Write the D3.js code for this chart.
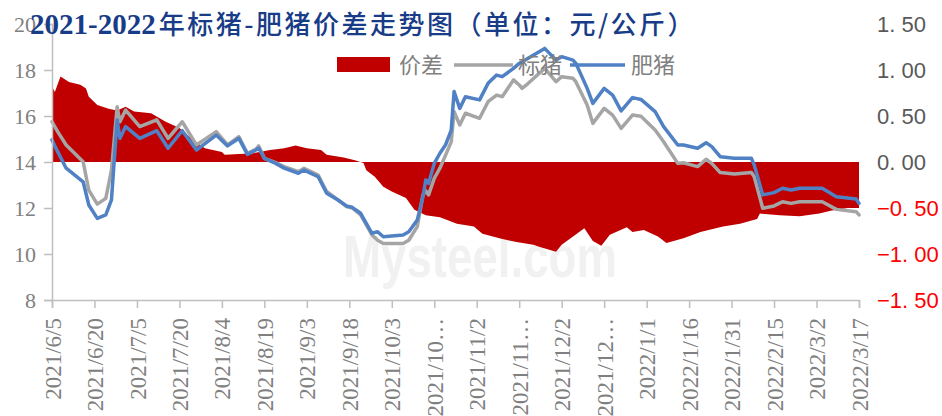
<!DOCTYPE html>
<html>
<head>
<meta charset="utf-8">
<script src="https://cdn.jsdelivr.net/npm/d3@7/dist/d3.min.js"></script>
<style>
  html, body { margin: 0; padding: 0; background: #ffffff; }
  svg { display: block; }
</style>
</head>
<body>
<svg id="chart" width="942" height="416"></svg>
<script>
// Standard pig (标猪) and fat pig (肥猪) prices, 元/公斤
const lineDates = [
  "2021-06-05","2021-06-07","2021-06-10","2021-06-16","2021-06-18","2021-06-21","2021-06-24","2021-06-26",
  "2021-06-28","2021-06-29","2021-07-01","2021-07-06","2021-07-12","2021-07-16","2021-07-21","2021-07-26",
  "2021-08-02","2021-08-06","2021-08-10","2021-08-13","2021-08-16","2021-08-17","2021-08-19","2021-08-23",
  "2021-08-26","2021-08-31","2021-09-02","2021-09-07","2021-09-10","2021-09-14","2021-09-17","2021-09-19",
  "2021-09-22","2021-09-26","2021-09-28","2021-09-30","2021-10-07","2021-10-09","2021-10-12","2021-10-14",
  "2021-10-15","2021-10-16","2021-10-18","2021-10-20","2021-10-22","2021-10-24","2021-10-25","2021-10-27",
  "2021-10-29","2021-11-03","2021-11-06","2021-11-09","2021-11-11","2021-11-15","2021-11-17","2021-11-18",
  "2021-11-20","2021-11-26","2021-11-30","2021-12-02","2021-12-06","2021-12-07","2021-12-11","2021-12-13",
  "2021-12-17","2021-12-20","2021-12-23","2021-12-27","2021-12-30","2022-01-04","2022-01-07","2022-01-12",
  "2022-01-14","2022-01-19","2022-01-22","2022-01-24","2022-01-27","2022-02-01","2022-02-07","2022-02-08",
  "2022-02-11","2022-02-15","2022-02-18","2022-02-21","2022-02-24","2022-03-04","2022-03-09","2022-03-16",
  "2022-03-17"
];
const standardPig = [
  15.75,15.32,14.74,14.01,12.78,12.17,12.42,13.65,
  16.40,15.75,16.26,15.54,15.83,15.03,15.75,14.74,
  15.32,14.74,15.10,14.38,14.55,14.70,14.16,13.97,
  13.80,13.58,13.73,13.43,12.72,12.35,12.06,12.00,
  11.70,10.83,10.60,10.46,10.46,10.60,11.19,12.57,
  12.75,12.57,13.29,13.73,14.30,14.88,16.19,15.61,
  16.12,15.90,16.62,16.91,16.84,17.57,17.35,17.20,
  17.40,18.07,17.49,17.71,17.64,17.49,16.48,15.68,
  16.33,16.04,15.46,16.04,15.99,15.39,14.88,13.94,
  13.97,13.80,14.12,13.94,13.54,13.48,13.54,13.36,
  11.99,12.09,12.27,12.20,12.27,12.27,11.94,11.84,
  11.70
];
const fatPig = [
  14.96,14.45,13.73,13.14,12.13,11.55,11.70,12.35,
  15.83,15.03,15.54,15.03,15.36,14.60,15.36,14.52,
  15.17,14.70,15.03,14.33,14.52,14.60,14.16,13.94,
  13.73,13.51,13.65,13.36,12.64,12.35,12.09,12.03,
  11.77,10.90,10.97,10.75,10.83,10.97,11.48,12.49,
  13.22,13.07,13.94,14.38,14.75,15.39,17.06,16.33,
  16.84,16.70,17.42,17.78,17.71,18.07,18.29,18.35,
  18.50,18.94,18.43,18.58,18.43,18.29,17.20,16.55,
  17.20,16.91,16.22,16.80,16.72,16.19,15.54,14.74,
  14.74,14.60,14.84,14.67,14.23,14.16,14.16,13.87,
  12.57,12.67,12.86,12.78,12.86,12.86,12.49,12.39,
  12.20
];

// Price spread (价差), right axis
const spreadDates = [
  "2021-06-05","2021-06-06","2021-06-08","2021-06-11","2021-06-15","2021-06-17","2021-06-18","2021-06-21",
  "2021-06-25","2021-06-28","2021-07-01","2021-07-04","2021-07-10","2021-07-15","2021-07-20","2021-07-24",
  "2021-07-29","2021-08-04","2021-08-05","2021-08-12","2021-08-14","2021-08-21","2021-08-26","2021-08-30",
  "2021-09-03","2021-09-08","2021-09-10","2021-09-16","2021-09-20","2021-09-23","2021-09-24","2021-09-27",
  "2021-09-30","2021-10-03","2021-10-08","2021-10-11","2021-10-15","2021-10-20","2021-10-26","2021-11-01",
  "2021-11-04","2021-11-10","2021-11-16","2021-11-22","2021-11-24","2021-11-30","2021-12-02","2021-12-10",
  "2021-12-13","2021-12-16","2021-12-19","2021-12-25","2021-12-27","2021-12-31","2022-01-05","2022-01-08",
  "2022-01-14","2022-01-20","2022-01-28","2022-02-03","2022-02-09","2022-02-10","2022-02-17","2022-02-24",
  "2022-03-03","2022-03-07","2022-03-13","2022-03-17"
];
const spreadValues = [
  0.82,0.76,0.93,0.87,0.84,0.80,0.71,0.62,
  0.58,0.56,0.60,0.55,0.53,0.44,0.37,0.26,
  0.15,0.11,0.08,0.09,0.09,0.13,0.15,0.18,
  0.15,0.13,0.08,0.05,0.02,-0.01,-0.09,-0.16,
  -0.27,-0.32,-0.39,-0.52,-0.58,-0.60,-0.67,-0.70,
  -0.78,-0.83,-0.87,-0.90,-0.92,-0.975,-0.90,-0.72,
  -0.86,-0.91,-0.79,-0.71,-0.76,-0.74,-0.81,-0.88,
  -0.83,-0.76,-0.70,-0.67,-0.62,-0.56,-0.58,-0.59,
  -0.56,-0.53,-0.50,-0.50
];

// Axis ticks
const xTickDates = [
  "2021-06-05","2021-06-20","2021-07-05","2021-07-20","2021-08-04","2021-08-19","2021-09-03","2021-09-18",
  "2021-10-03","2021-10-18","2021-11-02","2021-11-17","2021-12-02","2021-12-17","2022-01-01","2022-01-16",
  "2022-01-31","2022-02-15","2022-03-02","2022-03-17"
];
const xTickLabels = [
  "2021/6/5","2021/6/20","2021/7/5","2021/7/20","2021/8/4","2021/8/19","2021/9/3","2021/9/18",
  "2021/10/3","2021/10…","2021/11/2","2021/11…","2021/12/2","2021/12…","2022/1/1","2022/1/16",
  "2022/1/31","2022/2/15","2022/3/2","2022/3/17"
];
const leftTicks = [8, 10, 12, 14, 16, 18, 20];
const rightTicks = [-1.5, -1.0, -0.5, 0, 0.5, 1.0, 1.5];

const titleNumber = "2021-2022";
const titleText = "年标猪-肥猪价差走势图（单位：元/公斤）";
const legendNames = ["价差", "标猪", "肥猪"];

const parse = d3.utcParse("%Y-%m-%d");
const svg = d3.select("#chart");

const plot = { left: 52, right: 859, top: 24, bottom: 300 };

const x = d3.scaleUtc()
  .domain([parse(xTickDates[0]), parse(xTickDates[xTickDates.length - 1])])
  .range([plot.left, plot.right]);
const yL = d3.scaleLinear().domain([8, 20]).range([plot.bottom, plot.top]);
const yR = d3.scaleLinear().domain([-1.5, 1.5]).range([plot.bottom, plot.top]);

const axisColor = "#bfbfbf";
const labelGray = "#808080";

// Watermark
svg.append("text")
  .attr("x", 343).attr("y", 277)
  .attr("textLength", 274).attr("lengthAdjust", "spacingAndGlyphs")
  .style("font-family", "'Liberation Sans', Arial, sans-serif")
  .style("font-weight", "bold")
  .style("font-size", "60px")
  .style("fill", "#f1f1f1")
  .text("Mysteel.com");

// Spread area
const spread = spreadDates.map((d, i) => ({ date: parse(d), v: spreadValues[i] }));
svg.append("path")
  .datum(spread)
  .attr("fill", "#c00000")
  .attr("d", d3.area()
    .x(d => x(d.date))
    .y0(yR(0))
    .y1(d => yR(d.v)));

// Price lines
const series = lineDates.map((d, i) => ({ date: parse(d), s: standardPig[i], f: fatPig[i] }));
const lineS = d3.line().x(d => x(d.date)).y(d => yL(d.s));
const lineF = d3.line().x(d => x(d.date)).y(d => yL(d.f));
svg.append("path").datum(series)
  .attr("fill", "none").attr("stroke", "#a5a5a5").attr("stroke-width", 3.5)
  .attr("stroke-linejoin", "round").attr("stroke-linecap", "round")
  .attr("d", lineS);
svg.append("path").datum(series)
  .attr("fill", "none").attr("stroke", "#4f81c4").attr("stroke-width", 3.5)
  .attr("stroke-linejoin", "round").attr("stroke-linecap", "round")
  .attr("d", lineF);

// Left axis
const gL = svg.append("g").attr("transform", `translate(${plot.left},0)`)
  .call(d3.axisLeft(yL).tickValues(leftTicks).tickSize(8).tickPadding(8).tickFormat(d3.format("d")));
gL.select(".domain").attr("stroke", axisColor).attr("stroke-width", 1.5);
gL.selectAll(".tick line").attr("stroke", axisColor).attr("stroke-width", 1.5);
gL.selectAll(".tick text")
  .attr("fill", labelGray)
  .style("font-family", "'Liberation Serif', 'Times New Roman', serif")
  .style("font-size", "22px");

// Bottom axis
const gB = svg.append("g").attr("transform", `translate(0,${plot.bottom})`)
  .call(d3.axisBottom(x).tickValues(xTickDates.map(parse)).tickSize(8)
    .tickFormat((d, i) => xTickLabels[i]));
gB.select(".domain").attr("stroke", axisColor).attr("stroke-width", 1.5);
gB.selectAll(".tick line").attr("stroke", axisColor).attr("stroke-width", 1.5);
gB.selectAll(".tick text")
  .attr("fill", labelGray)
  .attr("transform", "rotate(-90)")
  .attr("x", -18).attr("y", 0).attr("dy", "0.35em")
  .attr("text-anchor", "end")
  .style("font-family", "'Liberation Serif', 'Times New Roman', serif")
  .style("font-size", "23px");

// Right axis (labels only)
const gR = svg.append("g").attr("transform", `translate(${plot.right},0)`)
  .call(d3.axisRight(yR).tickValues(rightTicks).tickSize(0).tickPadding(18)
    .tickFormat(d => d3.format(".2f")(d).replace(".", ". ")));
gR.select(".domain").remove();
gR.selectAll(".tick text")
  .attr("fill", d => d < 0 ? "#ff0000" : "#595959")
  .style("font-family", "'Liberation Sans', Arial, sans-serif")
  .style("font-size", "22px")
  .style("white-space", "pre");

// Legend
const lg = svg.append("g").style("font-family", "'Noto Sans CJK SC', sans-serif")
  .style("font-size", "22px");
lg.append("rect").attr("x", 337).attr("y", 57).attr("width", 53).attr("height", 15).attr("fill", "#c00000");
lg.append("text").attr("x", 399).attr("y", 65).attr("dy", "0.35em").attr("fill", labelGray).text(legendNames[0]);
lg.append("line").attr("x1", 454).attr("x2", 513).attr("y1", 65).attr("y2", 65)
  .attr("stroke", "#a5a5a5").attr("stroke-width", 3.5);
lg.append("text").attr("x", 518).attr("y", 65).attr("dy", "0.35em").attr("fill", labelGray).text(legendNames[1]);
lg.append("line").attr("x1", 570).attr("x2", 625).attr("y1", 65).attr("y2", 65)
  .attr("stroke", "#4f81c4").attr("stroke-width", 3.5);
lg.append("text").attr("x", 631).attr("y", 65).attr("dy", "0.35em").attr("fill", labelGray).text(legendNames[2]);

// Title
const title = svg.append("text").attr("x", 30).attr("y", 34).attr("fill", "#183c87");
title.append("tspan")
  .style("font-family", "'Liberation Serif', 'Times New Roman', serif")
  .style("font-weight", "bold").style("font-size", "29px")
  .text(titleNumber);
title.append("tspan")
  .attr("dx", 3)
  .style("font-family", "'Noto Sans CJK SC', sans-serif")
  .style("font-weight", "500").style("font-size", "26px").style("letter-spacing", "2.5px")
  .text(titleText);
</script>
</body>
</html>
